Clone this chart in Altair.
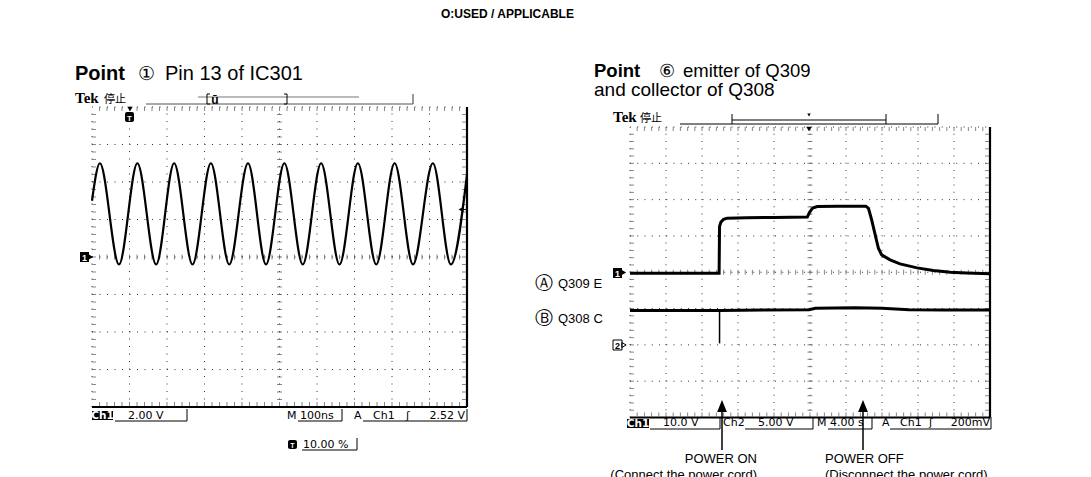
import altair as alt
import pandas as pd

# ---------------- data ----------------
# Point 1 : Pin 13 of IC301  (Ch1 2.00 V/div, M 100 ns/div, 10 x 8 divisions)
L_TIME_NS = [0, 21, 72, 121, 171, 219, 268, 317, 366, 416, 464, 513, 562,
             611, 660, 709, 758, 807, 856, 909, 957, 1000]
L_VOLT = [3.0, 5.0, -0.4, 5.0, -0.4, 5.0, -0.4, 5.0, -0.4, 5.0, -0.4, 5.0,
          -0.4, 5.0, -0.4, 5.0, -0.4, 5.0, -0.4, 5.0, -0.4, 4.4]

# Point 6 : Ch1 = emitter of Q309 (10.0 V/div), Ch2 = collector of Q308 (5.00 V/div), M 4.00 s/div
R1_TIME_S = [0, 9.9, 9.95, 10.1, 10.4, 10.8, 13, 16, 19.7, 19.95, 20.3, 20.8,
             23, 26.2, 26.5, 26.85, 27.2, 27.6, 27.96, 28.9, 30, 31.9, 33.7,
             35.6, 37.4, 40]
R1_VOLT = [-0.3, -0.3, 12.6, 13.8, 14.6, 14.9, 15.0, 15.1, 15.2, 16.5, 17.7,
           18.1, 18.2, 18.2, 17.6, 14.4, 10.8, 6.6, 4.8, 3.4, 2.3, 1.2, 0.5,
           0.0, -0.2, -0.4]
R2_TIME_S = [0, 5, 9.95, 15, 19.9, 20.6, 25, 28, 31, 35, 40]
R2_VOLT = [4.75, 4.75, 4.75, 4.8, 4.85, 5.05, 5.1, 5.05, 4.85, 4.8, 4.8]
R2_SPIKE_TIME_S = [9.95]
R2_SPIKE_FROM = [4.75]
R2_SPIKE_TO = [0.2]

# ---------------- styling ----------------
SANS = "Liberation Sans, Arial, sans-serif"
SERIF = "Liberation Serif, Times New Roman, serif"
SCOPE = "DejaVu Sans, sans-serif"
CJK = "Noto Sans CJK JP, sans-serif"
DOT = "#333333"
TICK = "#555555"

ONE = pd.DataFrame({"k": [0]})

# scope screens (scales map volts / time onto the screen area)
LX = alt.Scale(domain=[0, 1000], range=[84, 459], nice=False, zero=False)
LY = alt.Scale(domain=[-8, 8], range=[399, 99], nice=False, zero=False)
RX = alt.Scale(domain=[0, 40], range=[622, 982], nice=False, zero=False)
RY1 = alt.Scale(domain=[-40, 40], range=[409.5, 119], nice=False, zero=False)
RY2 = alt.Scale(domain=[-10, 30], range=[409.5, 119], nice=False, zero=False)


def X(f, s):
    return alt.X(f, type="quantitative", scale=s, axis=None)


def Y(f, s):
    return alt.Y(f, type="quantitative", scale=s, axis=None)


def scope_grid(xs, ys, t0, t1, v0, v1, dash):
    tdiv = [t0 + (t1 - t0) * i / 10 for i in range(11)]
    vdiv = [v0 + (v1 - v0) * j / 8 for j in range(9)]
    tsub = [t0 + (t1 - t0) * k / 50 for k in range(1, 50)]
    vsub = [v0 + (v1 - v0) * k / 40 for k in range(1, 40)]
    tc, vc = (t0 + t1) / 2, (v0 + v1) / 2
    out = []
    vr = pd.DataFrame({"t": tdiv[:10], "lo": v0, "hi": v1})
    out.append(alt.Chart(vr).mark_rule(color=DOT, strokeWidth=1, strokeDash=dash)
               .encode(x=X("t", xs), y=Y("lo", ys), y2="hi"))
    hr = pd.DataFrame({"v": vdiv[1:], "lo": t0, "hi": t1})
    out.append(alt.Chart(hr).mark_rule(color=DOT, strokeWidth=1, strokeDash=dash)
               .encode(y=Y("v", ys), x=X("lo", xs), x2="hi"))
    # solid right and bottom border
    out.append(alt.Chart(pd.DataFrame({"t": [t1], "lo": [v0], "hi": [v1]}))
               .mark_rule(color="black", strokeWidth=2.2)
               .encode(x=X("t", xs), y=Y("lo", ys), y2="hi"))
    out.append(alt.Chart(pd.DataFrame({"v": [v0], "lo": [t0], "hi": [t1]}))
               .mark_rule(color="black", strokeWidth=2.2)
               .encode(y=Y("v", ys), x=X("lo", xs), x2="hi"))
    # centre cross ticks
    out.append(alt.Chart(pd.DataFrame({"t": tsub, "v": vc}))
               .mark_tick(orient="vertical", size=5, thickness=1, color=TICK)
               .encode(x=X("t", xs), y=Y("v", ys)))
    out.append(alt.Chart(pd.DataFrame({"t": tc, "v": vsub}))
               .mark_tick(orient="horizontal", size=5, thickness=1, color=TICK)
               .encode(x=X("t", xs), y=Y("v", ys)))
    # border ticks (pointing inward)
    out.append(alt.Chart(pd.DataFrame({"t": tsub, "v": v1}))
               .mark_tick(orient="vertical", size=4, thickness=1, yOffset=2, color=TICK)
               .encode(x=X("t", xs), y=Y("v", ys)))
    out.append(alt.Chart(pd.DataFrame({"t": tsub, "v": v0}))
               .mark_tick(orient="vertical", size=4, thickness=1, yOffset=-3, color=TICK)
               .encode(x=X("t", xs), y=Y("v", ys)))
    out.append(alt.Chart(pd.DataFrame({"t": t0, "v": vsub}))
               .mark_tick(orient="horizontal", size=4, thickness=1, xOffset=2, color=TICK)
               .encode(x=X("t", xs), y=Y("v", ys)))
    out.append(alt.Chart(pd.DataFrame({"t": t1, "v": vsub}))
               .mark_tick(orient="horizontal", size=4, thickness=1, xOffset=-3, color=TICK)
               .encode(x=X("t", xs), y=Y("v", ys)))
    return out


def text(s, x, y, size=12, font=SANS, weight="normal", align="left", color="black"):
    return alt.Chart(ONE).mark_text(text=s, fontSize=size, font=font, fontWeight=weight,
                                    align=align, baseline="alphabetic", color=color
                                    ).encode(x=alt.value(x), y=alt.value(y))


def seg(x1, y1, x2, y2, w=1.0, color="black"):
    return alt.Chart(ONE).mark_rule(strokeWidth=w, color=color).encode(
        x=alt.value(x1), y=alt.value(y1), x2=alt.value(x2), y2=alt.value(y2))


def box(x1, y1, x2, y2, fill="black", stroke=None, r=0):
    kw = dict(fill=fill, cornerRadius=r)
    if stroke:
        kw.update(stroke=stroke, strokeWidth=1)
    return alt.Chart(ONE).mark_rect(**kw).encode(
        x=alt.value(x1), y=alt.value(y1), x2=alt.value(x2), y2=alt.value(y2))


def sym(shape, x, y, size, filled=True):
    kw = dict(shape=shape, size=size, opacity=1)
    if filled:
        kw.update(filled=True, fill="black", strokeWidth=0)
    else:
        kw.update(filled=False, stroke="black", strokeWidth=1)
    return alt.Chart(ONE).mark_point(**kw).encode(x=alt.value(x), y=alt.value(y))


ARROW = "M0,-1L0.8,1L-0.8,1Z"

layers = []

# ---------------- left scope ----------------
layers += scope_grid(LX, LY, 0, 1000, -8, 8, [1, 6.5])
layers.append(
    alt.Chart(pd.DataFrame({"t": L_TIME_NS, "v": L_VOLT}))
    .mark_line(color="black", strokeWidth=2.2, interpolate="monotone")
    .encode(x=X("t", LX), y=Y("v", LY))
)

# ---------------- right scope ----------------
layers += scope_grid(RX, RY1, 0, 40, -40, 40, [1, 6.25])
layers.append(
    alt.Chart(pd.DataFrame({"t": R1_TIME_S, "v": R1_VOLT}))
    .mark_line(color="black", strokeWidth=3)
    .encode(x=X("t", RX), y=Y("v", RY1))
)
layers.append(
    alt.Chart(pd.DataFrame({"t": R2_TIME_S, "v": R2_VOLT}))
    .mark_line(color="black", strokeWidth=3)
    .encode(x=X("t", RX), y=Y("v", RY2))
)
layers.append(
    alt.Chart(pd.DataFrame({"t": R2_SPIKE_TIME_S, "a": R2_SPIKE_FROM, "b": R2_SPIKE_TO}))
    .mark_rule(color="black", strokeWidth=1.5)
    .encode(x=X("t", RX), y=Y("a", RY2), y2="b")
)

# ---------------- header and titles ----------------
layers += [
    text("O:USED / APPLICABLE", 433, 10, 12, weight="bold"),
    text("Point", 67, 72, 20, weight="bold"),
    text("①", 138, 72, 19, align="center"),
    text("Pin 13 of IC301", 157, 72, 20),
    text("Point", 586, 69, 18.5, weight="bold"),
    text("⑥", 659, 69, 17.5, align="center"),
    text("emitter of Q309", 675, 69, 18.5),
    text("and collector of Q308", 586, 88, 19),
]

# ---------------- left scope decorations ----------------
layers += [
    text("Tek", 67, 95, 15, SERIF, "bold"),
    text("停止", 96, 95, 11, CJK),
    seg(138, 96, 405, 96, 1.2, "#555"),
    seg(405, 86, 405, 96, 1.2, "#555"),
    seg(190, 89, 351, 89, 1.2, "#777"),
    seg(199, 86, 199, 96), seg(199, 86, 202, 86), seg(199, 96, 202, 96),
    seg(279, 86, 279, 96), seg(276, 86, 279, 86), seg(276, 96, 279, 96),
    text("ū", 207, 96, 12, weight="bold", align="center"),
    sym("triangle-down", 122, 101, 30),
    box(117, 104, 126, 114, r=2),
    text("T", 121.5, 112.5, 8, weight="bold", align="center", color="white"),
    box(72, 244, 81, 254),
    text("1", 76.5, 252.5, 9, weight="bold", align="center", color="white"),
    sym("triangle-right", 83, 249, 25),
    sym("triangle-left", 453, 201.5, 30),
    seg(455, 201.5, 459, 201.5),
    box(84, 403, 105, 412),
    text("Ch1", 94.5, 411, 10.5, SCOPE, "bold", "center", "white"),
    text("2.00 V", 120, 411, 11, SCOPE),
    seg(107, 413, 179, 413), seg(179, 401, 179, 413),
    text("M", 279, 411, 11, SCOPE),
    text("100ns", 292, 411, 11, SCOPE),
    seg(290, 413, 334, 413), seg(334, 401, 334, 413),
    text("A", 346, 411, 11, SCOPE),
    text("Ch1", 365, 411, 11, SCOPE),
    text("ʃ", 398, 411, 11, SCOPE),
    text("2.52 V", 457, 411, 11, SCOPE, align="right"),
    seg(355, 413, 459, 413), seg(459, 401, 459, 413),
    box(280, 432, 289, 441, r=2),
    text("T", 284.5, 439.5, 7, weight="bold", align="center", color="white"),
    text("10.00 %", 295, 440, 11, SCOPE),
    seg(294, 442, 349, 442), seg(349, 430, 349, 442),
]

# ---------------- right scope decorations ----------------
layers += [
    text("Tek", 605, 114, 15, SERIF, "bold"),
    text("停止", 632, 114, 11, CJK),
    seg(672, 116, 930, 116), seg(930, 106, 930, 116),
    seg(724, 112, 878, 112), seg(724, 106, 724, 116), seg(878, 106, 878, 116),
    sym("triangle-down", 801, 107, 12),
    sym("triangle-down", 801, 121, 30),
    box(605, 260, 614, 270),
    text("1", 609.5, 268.5, 9, weight="bold", align="center", color="white"),
    sym("triangle-right", 616, 264.5, 25),
    box(605, 332, 614, 342, fill="white", stroke="black"),
    text("2", 609.5, 340.5, 9, weight="bold", align="center"),
    sym("triangle-right", 616, 337, 25, filled=False),
    text("Ⓐ", 536, 281, 18, align="center"),
    text("Q309 E", 550, 280, 13),
    text("Ⓑ", 536, 316, 18, align="center"),
    text("Q308 C", 550, 315, 13),
    box(619, 411, 641, 420),
    text("Ch1", 630, 418.5, 10.5, SCOPE, "bold", "center", "white"),
    text("10.0 V", 655, 418, 11, SCOPE),
    seg(642, 421, 712, 421), seg(712, 409, 712, 421),
    text("Ch2", 715, 418, 11, SCOPE),
    text("5.00 V", 750, 418, 11, SCOPE),
    seg(737, 421, 805, 421), seg(805, 409, 805, 421),
    text("M", 809, 418, 11, SCOPE),
    text("4.00 s", 822, 418, 11, SCOPE),
    seg(820, 421, 864, 421), seg(864, 409, 864, 421),
    text("A", 874, 418, 11, SCOPE),
    text("Ch1", 892, 418, 11, SCOPE),
    text("ʃ", 921, 418, 11, SCOPE),
    text("200mV", 982, 418, 11, SCOPE, align="right"),
    seg(882, 421, 983, 421), seg(983, 409, 983, 421),
    seg(714, 403, 714, 442, 1.5),
    sym(ARROW, 714, 398, 150),
    seg(855, 403, 855, 442, 1.5),
    sym(ARROW, 855, 398, 150),
    text("POWER ON", 749, 455, 13, align="right"),
    text("(Connect the power cord)", 749, 471, 13, align="right"),
    text("POWER OFF", 817, 455, 13),
    text("(Disconnect the power cord)", 817, 471, 13),
]

chart = (
    alt.layer(*layers)
    .resolve_scale(x="independent", y="independent")
    .properties(width=1060, height=472, padding=0, autosize="none")
    .configure_view(strokeWidth=0)
)

chart.save("out.html", embed_options={"renderer": "svg", "actions": False})
